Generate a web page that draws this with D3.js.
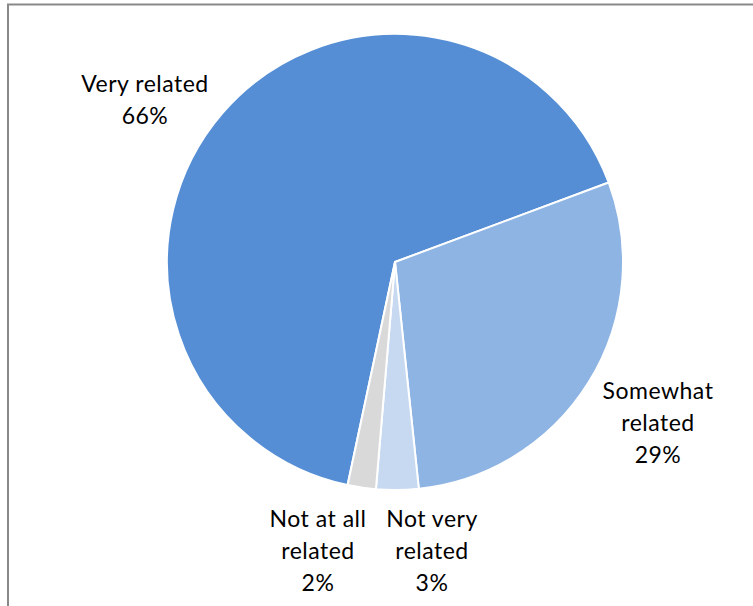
<!DOCTYPE html>
<html>
<head>
<meta charset="utf-8">
<script src="https://cdn.jsdelivr.net/npm/d3@7/dist/d3.min.js"></script>
<style>
  html, body { margin: 0; padding: 0; background: #fff; }
  svg { display: block; }
  .lbl { font-family: Lato, "Open Sans", sans-serif; font-size: 23px; fill: #000; letter-spacing: 0.5px; }
</style>
</head>
<body>
<div id="chart"></div>
<script>
// Relatedness of job to field of study (share of respondents)
const categories = ["Very related", "Somewhat related", "Not very related", "Not at all related"];
const shares = [66, 29, 3, 2];
const labelLines = [
  ["Very related", "66%"],
  ["Somewhat", "related", "29%"],
  ["Not very", "related", "3%"],
  ["Not at all", "related", "2%"]
];
const colors = ["#558ed5", "#8eb4e3", "#c6d9f1", "#d9d9d9"];

const W = 753, H = 606;
const cx = 395, cy = 262, R = 228;
// Where the first slice begins, clockwise from 12 o'clock
const firstAngle = 192 * Math.PI / 180;
// Label block centres (x, first baseline)
const labelAnchors = [[145, 92], [658, 399], [432, 527], [318, 527]];
const lineGap = 32;

const svg = d3.select("#chart").append("svg")
  .attr("width", W).attr("height", H);

// chart area border
svg.append("rect")
  .attr("x", 8).attr("y", 4.5)
  .attr("width", 900).attr("height", 800)
  .attr("fill", "#fff")
  .attr("stroke", "#898989").attr("stroke-width", 2);

const pie = d3.pie()
  .sort(null)
  .value(d => d)
  .startAngle(firstAngle)
  .endAngle(firstAngle + 2 * Math.PI);

const arcs = pie(shares);
const arc = d3.arc().innerRadius(0).outerRadius(R);

const g = svg.append("g").attr("transform", `translate(${cx},${cy})`);

g.selectAll("path.slice")
  .data(arcs)
  .join("path")
  .attr("class", "slice")
  .attr("d", arc)
  .attr("fill", (d, i) => colors[i])
  .attr("stroke", "#fff")
  .attr("stroke-width", 2)
  .attr("stroke-linejoin", "round");

const labels = svg.selectAll("text.lbl")
  .data(categories)
  .join("text")
  .attr("class", "lbl")
  .attr("text-anchor", "middle");

labels.each(function(c, i) {
  const [x, y] = labelAnchors[i];
  d3.select(this).selectAll("tspan")
    .data(labelLines[i])
    .join("tspan")
    .attr("x", x)
    .attr("y", (t, k) => y + k * lineGap)
    .text(t => t);
});
</script>
</body>
</html>
